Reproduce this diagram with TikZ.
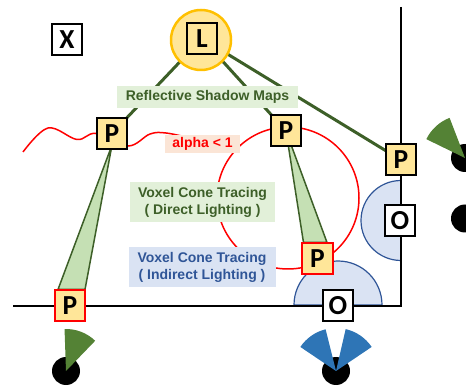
\documentclass[tikz,border=0pt]{standalone}
\usepackage{fontspec}
\setmainfont{Liberation Sans}
\newfontfamily\carlito{Carlito}
\usetikzlibrary{calc}
\definecolor{pyel}{HTML}{FFE699}
\definecolor{lgold}{HTML}{FFC000}
\definecolor{dgreen}{HTML}{3D5F28}
\definecolor{lgreen}{HTML}{E2F0D9}
\definecolor{cgreen}{HTML}{C5E0B4}
\definecolor{wgreen}{HTML}{548235}
\definecolor{lblue}{HTML}{DAE3F3}
\definecolor{dblue}{HTML}{2F5597}
\definecolor{wblue}{HTML}{2E75B6}
\definecolor{lred}{HTML}{FBE5D6}
\pgfdeclarelayer{bg}
\pgfsetlayers{bg,main}
\begin{document}
\begin{tikzpicture}[x=1pt,y=-1pt,
  letter/.style={draw=black, line width=2pt, minimum width=30.5pt, minimum height=31pt, inner sep=0pt,
    font=\carlito\bfseries\fontsize{27.5}{27.5}\selectfont},
  pbox/.style={letter, fill=pyel},
  pred/.style={pbox, draw=red},
  obox/.style={letter, fill=white},
  tag/.style={inner sep=0pt, font=\bfseries\fontsize{14}{17}\selectfont, align=center},
  greentag/.style={tag, fill=lgreen, text=dgreen},
  bluetag/.style={tag, fill=lblue, text=dblue},
  redtag/.style={tag, fill=lred, text=red},
  wall/.style={draw=black, line width=2pt},
  halfdisc/.style={draw=dblue, fill=lblue, line width=1.2pt},
  rsmline/.style={draw=dgreen, line width=3pt},
  cone/.style={draw=dgreen, fill=cgreen, line width=1.5pt, line join=round},
  redline/.style={draw=red, line width=1.5pt},
  dot/.style={fill=black},
]
\useasboundingbox (0,0) rectangle (466,387);

% nodes
\node[obox] (X) at (67,40) {X};
\node[circle, draw=lgold, fill=pyel, line width=2.5pt, minimum size=60pt] (Lc) at (201,40) {};
\node[pbox] (L) at (202,38.5) {L};
\node[greentag, minimum width=181pt, minimum height=22pt] (rsm) at (207.5,97) {Reflective Shadow Maps};
\node[redtag, minimum width=75pt, minimum height=18pt] (alpha) at (202.5,144) {alpha < 1};
\node[greentag, minimum width=145pt, minimum height=40pt] (vct1) at (202.5,202) {Voxel Cone Tracing\\( Direct Lighting )};
\node[bluetag, minimum width=147pt, minimum height=40pt] (vct2) at (202,267) {Voxel Cone Tracing\\( Indirect Lighting )};
\node[pbox] (P1) at (112,133.5) {P};
\node[pbox] (P2) at (286,131) {P};
\node[pbox] (P3) at (401,160) {P};
\node[pred] (P4) at (70,306) {P};
\node[pred] (P5) at (317.5,259) {P};
\node[obox] (O1) at (400,221) {O};
\node[obox] (O2) at (338,306) {O};

\coordinate (top) at (401,7);
\coordinate (corner) at (401,306);
\coordinate (left) at (13,306);
\coordinate (rc) at (288,198);

\begin{pgfonlayer}{bg}
  % half discs
  \path[halfdisc] (401,180.5) arc[start angle=-90, end angle=-270, radius=40] -- cycle;
  \path[halfdisc] (294,305) arc[start angle=-180, end angle=0, radius=44] -- cycle;
  % walls
  \draw[wall] (top) -- (corner) -- (left);
  % red circle and wave
  \draw[redline] (rc) circle[radius=71];
  \draw[redline] plot[smooth, tension=0.6] coordinates
    {(23,152) (48,128) (77,139.5) (P1.west) (128,146) (150,134) (166,133) (190,138)};
  % lines from light
  \draw[rsmline] (L.center) -- (P1.center);
  \draw[rsmline] (L.center) -- (P2.center);
  \draw[rsmline] (L.center) -- (P3.center);
  % cones
  \draw[cone] ($(P1.center)!0.7!(P1.south)$) -- ($(P4.north)+(-12,0)$) -- ($(P4.north)+(15,0)$) -- cycle;
  \draw[cone] (P2.center) -- ($(P5.north)+(-14,0)$) -- ($(P5.north)+(9.5,0)$) -- cycle;
\end{pgfonlayer}

% viewers
\coordinate (e1) at (66,371);
\coordinate (e2) at (465,158);
\coordinate (e3) at (465,218.5);
\coordinate (e4) at (336,371);
\fill[dot] (e1) circle[radius=14];
\fill[dot] (e2) circle[radius=14];
\fill[dot] (e3) circle[radius=14];
\fill[dot] (e4) circle[radius=14];
\fill[wgreen] (e1) -- +(-46:42) arc[start angle=-46, end angle=-92, radius=42] -- cycle;
\fill[wgreen] (e2) -- +(-111:43) arc[start angle=-111, end angle=-154, radius=43] -- cycle;
\fill[wblue] (e4) -- +(-104:43) arc[start angle=-104, end angle=-146, radius=43] -- cycle;
\fill[wblue] (e4) -- +(-34:43) arc[start angle=-34, end angle=-77, radius=43] -- cycle;
\end{tikzpicture}
\end{document}
